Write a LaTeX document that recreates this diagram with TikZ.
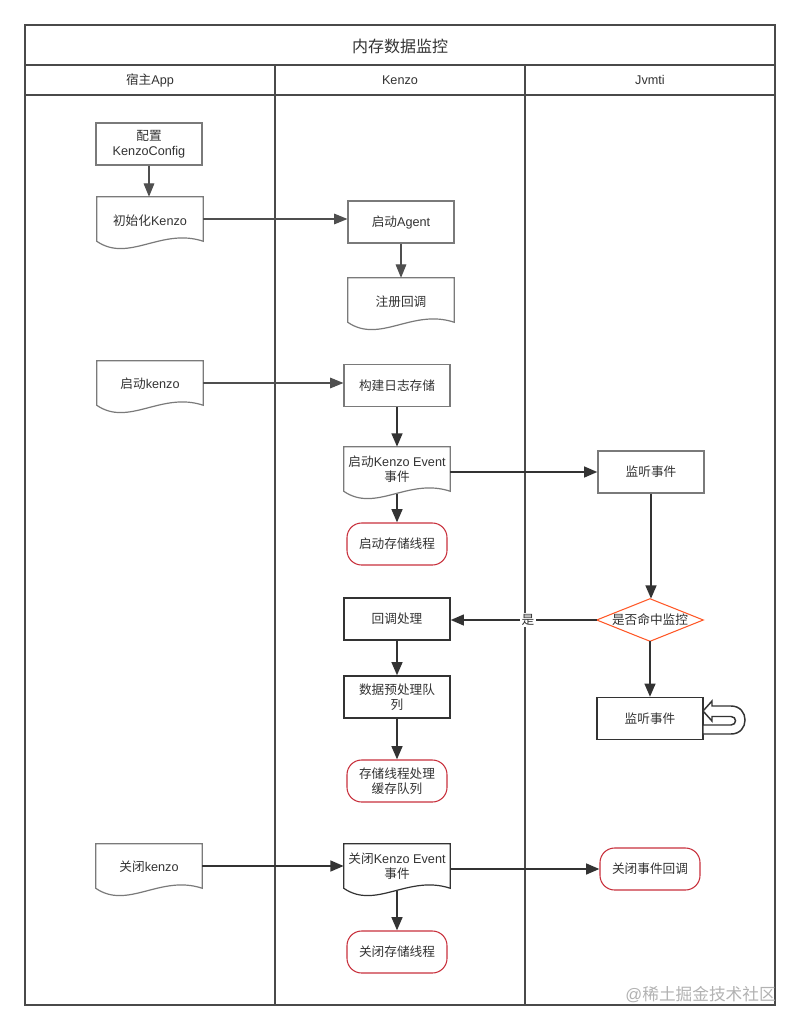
\documentclass[tikz,border=0pt]{standalone}
\usepackage{fontspec}
\setmainfont{Liberation Sans}
\newfontfamily\cjk{Noto Sans CJK SC}
\usetikzlibrary{arrows.meta,calc}
\definecolor{ink}{HTML}{333333}
\definecolor{lane}{HTML}{4A4A4A}
\definecolor{gborder}{HTML}{7A7A7A}
\definecolor{dborder}{HTML}{333333}
\definecolor{redb}{HTML}{C8303C}
\definecolor{orangeb}{HTML}{FF5A2A}
\definecolor{thin}{HTML}{4F4F4F}
\newcommand{\docshape}[2]{%
  \draw[#2, line width=0.9pt, fill=white] (#1.south west) -- (#1.north west) -- (#1.north east) -- (#1.south east)
    .. controls ($(#1.south east)+(-42,-14)$) and ($(#1.south west)+(32,22)$) .. (#1.south west) -- cycle;}
\newcommand{\zh}[1]{{\cjk #1}}
\begin{document}
\begin{tikzpicture}[x=0.75pt,y=-0.75pt,
  every node/.style={text=ink, font=\fontsize{9.5}{11.5}\selectfont, align=center, inner sep=0pt},
  boxg/.style={draw=gborder, line width=0.9pt, fill=white, minimum width=79.5pt, minimum height=31.5pt},
  boxd/.style={draw=dborder, line width=0.9pt, fill=white, minimum width=79.5pt, minimum height=31.5pt},
  docbox/.style={minimum width=79.5pt, minimum height=33pt},
  term/.style={draw=redb, line width=0.8pt, fill=white, rounded corners=11pt, minimum width=75pt, minimum height=31.5pt},
  diabox/.style={minimum width=79.5pt, minimum height=31.5pt},
  thinarrow/.style={draw=thin, line width=0.8pt, -{Triangle[length=10pt,width=8pt]}},
  thickarrow/.style={draw=ink, line width=1.8pt, -{Triangle[length=10pt,width=8pt]}},
  laneline/.style={draw=lane, line width=1.3pt}
]
\useasboundingbox (0,0) rectangle (800,1031);
\fill[white] (0,0) rectangle (800,1031);

% frame
\draw[laneline] (25,25) rectangle (775,1005);
\draw[laneline] (25,65) -- (775,65);
\draw[laneline] (25,95) -- (775,95);
\draw[laneline] (275,65) -- (275,1005);
\draw[laneline] (525,65) -- (525,1005);
\node (title) at (400,46) {\fontsize{12}{14}\selectfont\zh{内存数据监控}};
\node (h1) at (150,80) {\zh{宿主}App};
\node (h2) at (400,80) {Kenzo};
\node (h3) at (650,80) {Jvmti};

% lane 1
\node[boxg] (cfg) at (149,144) {\zh{配置}\\KenzoConfig};
\node[docbox] (init) at (150,219) {};
\docshape{init}{draw=gborder}
\node at ($(init)+(0,1.5)$) {\zh{初始化}Kenzo};
\node[docbox] (startk) at (150,383) {};
\docshape{startk}{draw=gborder}
\node at ($(startk)+(0,1)$) {\zh{启动}kenzo};
\node[docbox] (close) at (149,866) {};
\docshape{close}{draw=gborder}
\node at ($(close)+(0,1)$) {\zh{关闭}kenzo};

% lane 2
\node[boxg] (agent) at (401,222) {\zh{启动}Agent};
\node[docbox] (reg) at (401,300) {};
\docshape{reg}{draw=gborder}
\node at ($(reg)+(0,1.5)$) {\zh{注册回调}};
\node[boxg] (build) at (397,385.5) {\zh{构建日志存储}};
\node[docbox] (ev1) at (397,469) {};
\docshape{ev1}{draw=gborder}
\node at (ev1) {\zh{启动}Kenzo Event\\\zh{事件}};
\node[term] (store1) at (397,544) {\zh{启动存储线程}};
\node[boxd] (cb) at (397,619) {\zh{回调处理}};
\node[boxd] (pre) at (397,697) {\zh{数据预处理队}\\\zh{列}};
\node[term] (store2) at (397,781) {\zh{存储线程处理}\\\zh{缓存队列}};
\node[docbox] (ev2) at (397,866) {};
\docshape{ev2}{draw=dborder}
\node at (ev2) {\zh{关闭}Kenzo Event\\\zh{事件}};
\node[term] (store3) at (397,952) {\zh{关闭存储线程}};

% lane 3
\node[boxg] (listen1) at (651,472) {\zh{监听事件}};
\node[diabox] (dia) at (650,620) {};
\draw[draw=orangeb, line width=0.8pt, fill=white] (dia.north) -- (dia.east) -- (dia.south) -- (dia.west) -- cycle;
\node at (dia) {\zh{是否命中监控}};
\node[boxd] (listen2) at (650,718.5) {\zh{监听事件}};
\node[term] (closecb) at (650,869) {\zh{关闭事件回调}};

% connectors
\draw[thinarrow] (cfg.south) -- (cfg.south |- init.north);
\draw[thinarrow] (init.east) -- (init.east -| agent.west);
\draw[thinarrow] (agent.south) -- (agent.south |- reg.north);
\draw[thinarrow] (startk.east) -- (startk.east -| build.west);
\draw[thickarrow] (build.south) -- (ev1.north);
\draw[thickarrow, shorten <=2.2pt] (ev1.south) -- (store1.north);
\draw[thickarrow] (ev1.east |- listen1.west) -- (listen1.west);
\draw[thickarrow] (listen1.south) -- (listen1.south |- dia.north);
\draw[thickarrow] (dia.west) -- (dia.west -| cb.east) node[pos=0.47, fill=white, inner sep=1pt] (yes) {\zh{是}};
\draw[thickarrow] (dia.south) -- (dia.south |- listen2.north);
\draw[thickarrow] (cb.south) -- (pre.north);
\draw[thickarrow] (pre.south) -- (store2.north);
\draw[thickarrow] (close.east |- ev2.east) -- (ev2.west);
\draw[thickarrow] (ev2.east |- closecb.west) -- (closecb.west);
\draw[thickarrow, shorten <=2.2pt] (ev2.south) -- (store3.north);

% self loop on listen2
\draw[draw=ink, line width=1.1pt, fill=white, line join=miter]
  (703,711) -- (712,701) -- (712,706) -- (731,706)
  .. controls (749.7,706) and (749.7,734) .. (731,734) -- (703,734) -- (703,725) -- (731,725)
  .. controls (737,725) and (737,716.5) .. (731,716.5) -- (712,716.5) -- (712,721) -- cycle;

% watermark
\node[anchor=east, text=black!30, font=\fontsize{12.5}{14}\selectfont] (wm) at (776,995) {@\zh{稀土掘金技术社区}};
\end{tikzpicture}
\end{document}
